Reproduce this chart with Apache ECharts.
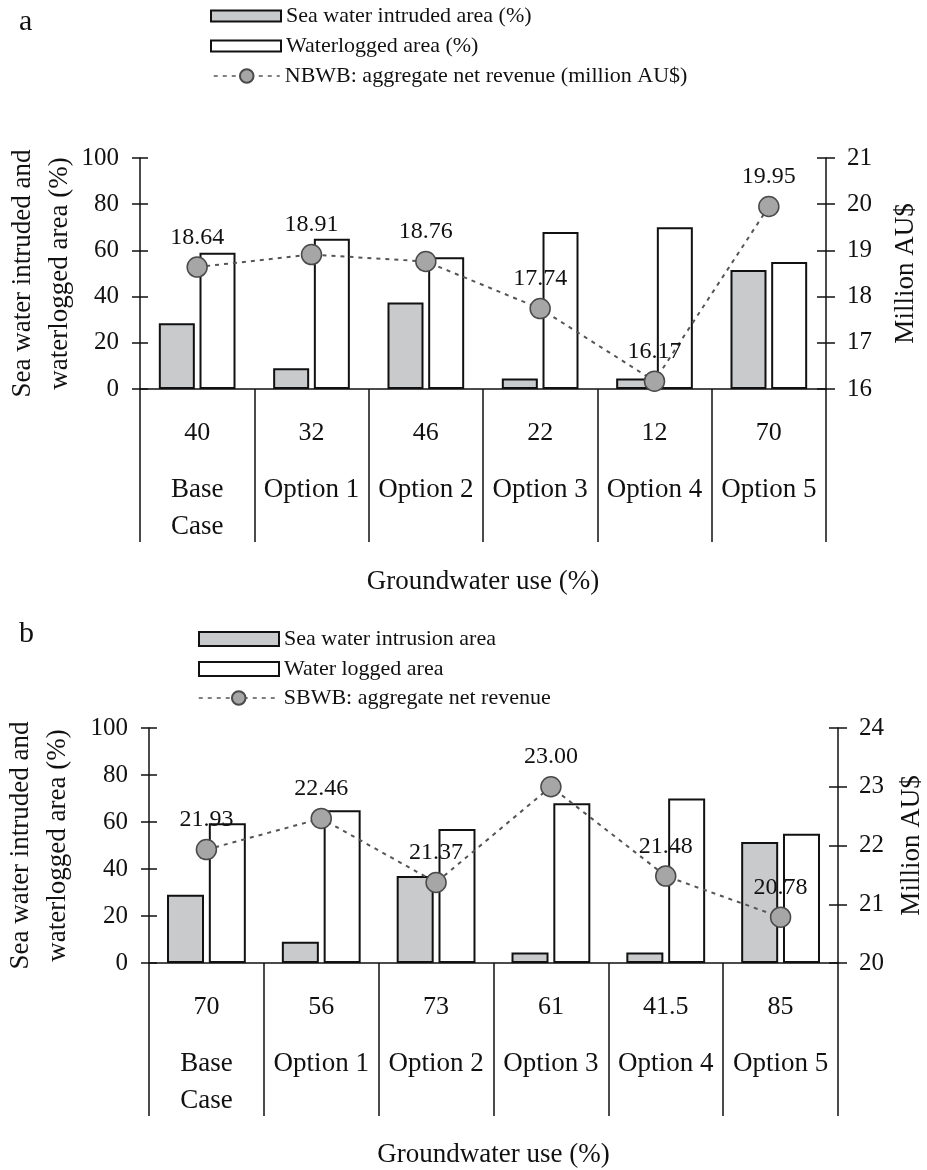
<!DOCTYPE html>
<html>
<head>
<meta charset="utf-8">
<script src="https://cdn.jsdelivr.net/npm/echarts@6/dist/echarts.min.js"></script>
<style>
html,body{margin:0;padding:0;background:#fff;}
#chart{width:927px;height:1170px;}
</style>
</head>
<body>
<div id="chart"></div>
<script>
// ---- Data ----
const categories = ['Base\nCase', 'Option 1', 'Option 2', 'Option 3', 'Option 4', 'Option 5'];
const groundwaterUseA = ['40', '32', '46', '22', '12', '70'];
const seaWaterA = [28.5, 9, 37.5, 4.5, 4.5, 51.5];
const waterloggedA = [59, 65, 57, 68, 70, 55];
const revenueA = [18.64, 18.91, 18.76, 17.74, 16.17, 19.95];

const groundwaterUseB = ['70', '56', '73', '61', '41.5', '85'];
const seaWaterB = [29, 9, 37, 4.5, 4.5, 51.5];
const waterloggedB = [59.5, 65, 57, 68, 70, 55];
const revenueB = [21.93, 22.46, 21.37, 23.00, 21.48, 20.78];

const namesA = ['Sea water intruded area (%)', 'Waterlogged area (%)', 'NBWB: aggregate net revenue (million AU$)'];
const namesB = ['Sea water intrusion area', 'Water logged area', 'SBWB: aggregate net revenue'];

const leftAxisName = 'Sea water intruded and\nwaterlogged area (%)';
const rightAxisName = 'Million AU$';
const xAxisName = 'Groundwater use (%)';

// ---- Styles ----
const FONT = '"Liberation Serif", "DejaVu Serif", serif';
const C = '#111';
const tickTxt = {fontFamily: FONT, fontSize: 25, color: C};
const nameTxt = {fontFamily: FONT, fontSize: 27, color: C};
const legTxt = {fontFamily: FONT, fontSize: 22, color: C, lineHeight: 22};
const axisLine = {show: true, lineStyle: {color: C, width: 1.5}};

function xAxisFor(gridIndex, uses, gap) {
  return {
    type: 'category', gridIndex, data: categories, boundaryGap: true,
    axisLine: axisLine,
    axisTick: {show: true, interval: 0, length: 153, lineStyle: {color: C, width: 1.5}},
    axisLabel: {
      interval: 0, margin: 6,
      formatter: (v, i) => '{n|' + uses[i] + '}\n{c|' + v + '}',
      rich: {
        n: {fontFamily: FONT, fontSize: 26, color: C, lineHeight: 76},
        c: {fontFamily: FONT, fontSize: 27, color: C, lineHeight: 37}
      }
    },
    name: xAxisName, nameLocation: 'middle', nameGap: gap, nameTextStyle: nameTxt,
    nameMoveOverlap: false,
    splitLine: {show: false}
  };
}

function yAxesFor(gridIndex, rmin, rmax, leftGap, rightGap) {
  return [
    { // left main
      type: 'value', gridIndex, position: 'left', min: 0, max: 100, interval: 20,
      axisLine: axisLine, axisTick: {show: true, length: 8, lineStyle: {color: C, width: 1.5}},
      axisLabel: Object.assign({margin: 21}, tickTxt), splitLine: {show: false},
      name: leftAxisName, nameLocation: 'middle', nameGap: leftGap, nameRotate: 90,
      nameMoveOverlap: false,
      nameTextStyle: Object.assign({lineHeight: 37}, nameTxt)
    },
    { // left inner ticks
      type: 'value', gridIndex, position: 'left', min: 0, max: 100, interval: 20,
      axisLine: {show: false}, axisTick: {show: true, inside: true, length: 8, lineStyle: {color: C, width: 1.5}},
      axisLabel: {show: false}, splitLine: {show: false}
    },
    { // right main
      type: 'value', gridIndex, position: 'right', min: rmin, max: rmax, interval: 1,
      axisLine: axisLine, axisTick: {show: true, length: 9, lineStyle: {color: C, width: 1.5}},
      axisLabel: Object.assign({margin: 21}, tickTxt), splitLine: {show: false},
      name: rightAxisName, nameLocation: 'middle', nameGap: rightGap, nameRotate: 90,
      nameMoveOverlap: false,
      nameTextStyle: Object.assign({lineHeight: 27}, nameTxt)
    },
    { // right inner ticks
      type: 'value', gridIndex, position: 'right', min: rmin, max: rmax, interval: 1,
      axisLine: {show: false}, axisTick: {show: true, inside: true, length: 9, lineStyle: {color: C, width: 1.5}},
      axisLabel: {show: false}, splitLine: {show: false}
    }
  ];
}

function seriesFor(k, names, sea, wl, rev, barW) {
  return [
    {
      type: 'bar', name: names[0], xAxisIndex: k, yAxisIndex: k * 4, data: sea,
      barWidth: barW, barGap: '13%',
      itemStyle: {color: '#c9cacc', borderColor: C, borderWidth: 2}
    },
    {
      type: 'bar', name: names[1], xAxisIndex: k, yAxisIndex: k * 4, data: wl,
      barWidth: barW, barGap: '13%',
      itemStyle: {color: '#ffffff', borderColor: C, borderWidth: 2}
    },
    {
      type: 'line', name: names[2], xAxisIndex: k, yAxisIndex: k * 4 + 2, data: rev,
      symbol: 'circle', symbolSize: 20, z: 5,
      lineStyle: {color: '#555', width: 2, type: [4, 5]},
      itemStyle: {color: '#a6a6a6', borderColor: '#4a4a4a', borderWidth: 1.5},
      label: {show: true, position: 'top', distance: 7, formatter: p => p.value.toFixed(2),
              fontFamily: FONT, fontSize: 24, color: C}
    }
  ];
}

function legendBars(names, left, top, w, h, gap) {
  return {
    orient: 'vertical', left, top, padding: 0, itemWidth: w, itemHeight: h, itemGap: 8, itemTextGap: gap,
    data: [{name: names[0], icon: 'rect'}, {name: names[1], icon: 'rect'}], selectedMode: false,
    textStyle: legTxt
  };
}
function legendLine(name, left, top, w, gap) {
  return {
    orient: 'vertical', left, top, padding: 0, itemWidth: w, itemHeight: 17, itemTextGap: gap,
    data: [name], selectedMode: false,
    lineStyle: {width: 1.5},
    textStyle: legTxt
  };
}

const option = {
  backgroundColor: '#fff',
  animation: false,
  title: [
    {text: 'a', left: 14, top: 2, textStyle: {fontFamily: FONT, fontSize: 30, fontWeight: 'normal', color: C}},
    {text: 'b', left: 14, top: 614, textStyle: {fontFamily: FONT, fontSize: 30, fontWeight: 'normal', color: C}}
  ],
  legend: [
    legendBars(namesA, 210, 5, 70, 11, 4),
    legendLine(namesA[2], 213, 65, 66, 7),
    legendBars(namesB, 198, 628, 80, 14, 7),
    legendLine(namesB[2], 198, 687, 80, 7)
  ],
  grid: [
    {left: 140, right: 101, top: 158, height: 231, containLabel: false, outerBoundsMode: 'none'},
    {left: 149, right: 89, top: 728, height: 235, containLabel: false, outerBoundsMode: 'none'}
  ],
  xAxis: [xAxisFor(0, groundwaterUseA, 179), xAxisFor(1, groundwaterUseB, 178)],
  yAxis: [].concat(yAxesFor(0, 16, 21, 62, 66), yAxesFor(1, 20, 24, 73, 60)),
  series: [].concat(
    seriesFor(0, namesA, seaWaterA, waterloggedA, revenueA, 36),
    seriesFor(1, namesB, seaWaterB, waterloggedB, revenueB, 37)
  )
};

const chart = echarts.init(document.getElementById('chart'), null, {renderer: 'canvas'});
chart.setOption(option);
</script>
</body>
</html>
